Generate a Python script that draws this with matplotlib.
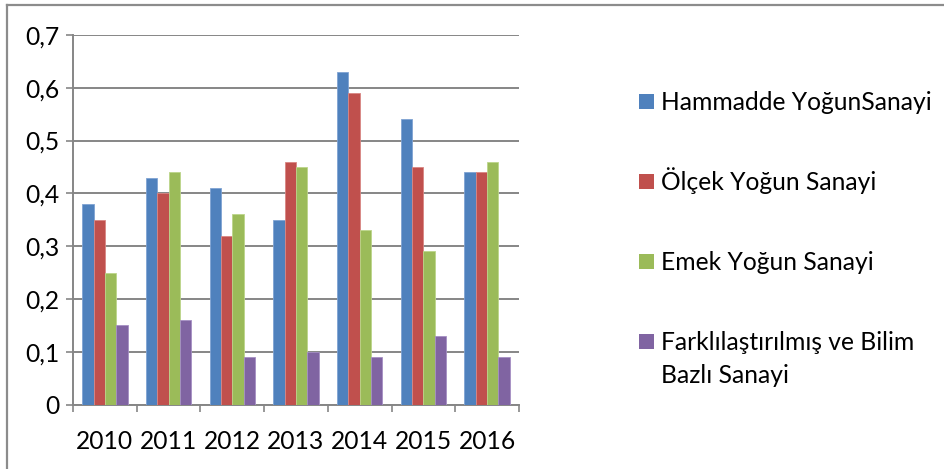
import numpy as np
import matplotlib
matplotlib.use("Agg")
import matplotlib.pyplot as plt
from matplotlib.patches import Rectangle
from matplotlib.lines import Line2D

plt.rcParams['font.family'] = ['Lato', 'DejaVu Sans']

years = ['2010', '2011', '2012', '2013', '2014', '2015', '2016']
hammadde = [0.38, 0.43, 0.41, 0.35, 0.63, 0.54, 0.44]
olcek = [0.35, 0.40, 0.32, 0.46, 0.59, 0.45, 0.44]
emek = [0.25, 0.44, 0.36, 0.45, 0.33, 0.29, 0.46]
farkli = [0.15, 0.16, 0.09, 0.10, 0.09, 0.13, 0.09]
series_names = ['Hammadde YoğunSanayi', 'Ölçek Yoğun Sanayi', 'Emek Yoğun Sanayi',
                'Farklılaştırılmış ve Bilim\nBazlı Sanayi']
yticks = [0, 0.1, 0.2, 0.3, 0.4, 0.5, 0.6, 0.7]
ytick_labels = ['0', '0,1', '0,2', '0,3', '0,4', '0,5', '0,6', '0,7']

colors = ['#4F81BD', '#C0504D', '#9BBB59', '#8064A2']
edges = ['#7FA3D3', '#D98683', '#BCD58A', '#A58FC4']
grey = '#868686'
W, H = 944, 469
fs = 17.7

fig = plt.figure(figsize=(W / 100, H / 100), dpi=100)
ax = fig.add_axes([73 / W, 1 - 404.5 / H, (519 - 73) / W, (404.5 - 35) / H])

x = np.arange(len(years))
bw = 0.178
data = [hammadde, olcek, emek, farkli]
for i, vals in enumerate(data):
    ax.bar(x + (i - 1.5) * bw, vals, bw, color=colors[i], edgecolor=edges[i],
           linewidth=0.6, zorder=3)

ax.set_xlim(-0.5, len(years) - 0.5)
ax.set_ylim(0, 0.7)
ax.set_yticks(yticks)
ax.set_yticklabels(ytick_labels)
ax.set_xticks(x)
ax.set_xticklabels(years)
ax.set_xticks(np.arange(len(years) + 1) - 0.5, minor=True)
ax.tick_params(axis='x', which='major', length=0, pad=18, labelsize=fs)
ax.tick_params(axis='x', which='minor', length=5, width=1.2, color=grey)
ax.tick_params(axis='y', length=5, width=1.2, color=grey, pad=5, labelsize=fs)
ax.grid(axis='y', color=grey, linewidth=1.4, zorder=0)
ax.set_axisbelow(True)
for s in ['top', 'right']:
    ax.spines[s].set_visible(False)
for s in ['left', 'bottom']:
    ax.spines[s].set_color(grey)
    ax.spines[s].set_linewidth(1.4)

# legend drawn by hand so the square sits on the first line of each label
base_y = [110, 190, 270, 350]
line_gap = 33
for i, name in enumerate(series_names):
    yb = base_y[i]
    fig.patches.append(Rectangle((639 / W, 1 - (yb - 1) / H), 15 / W, 15 / H,
                                 transform=fig.transFigure, facecolor=colors[i],
                                 edgecolor='none'))
    for k, part in enumerate(name.split('\n')):
        fig.text(661 / W, 1 - (yb + k * line_gap) / H, part, fontsize=fs,
                 va='baseline', ha='left')

# frame lines (top and left only visible in the crop)
fig.add_artist(Line2D([7 / W, 1], [1 - 5.5 / H, 1 - 5.5 / H], transform=fig.transFigure,
                      color='#8c8c8c', linewidth=1.6))
fig.add_artist(Line2D([7 / W, 7 / W], [0, 1 - 5.5 / H], transform=fig.transFigure,
                      color='#8c8c8c', linewidth=1.6))

fig.savefig('out.png', dpi=100)
